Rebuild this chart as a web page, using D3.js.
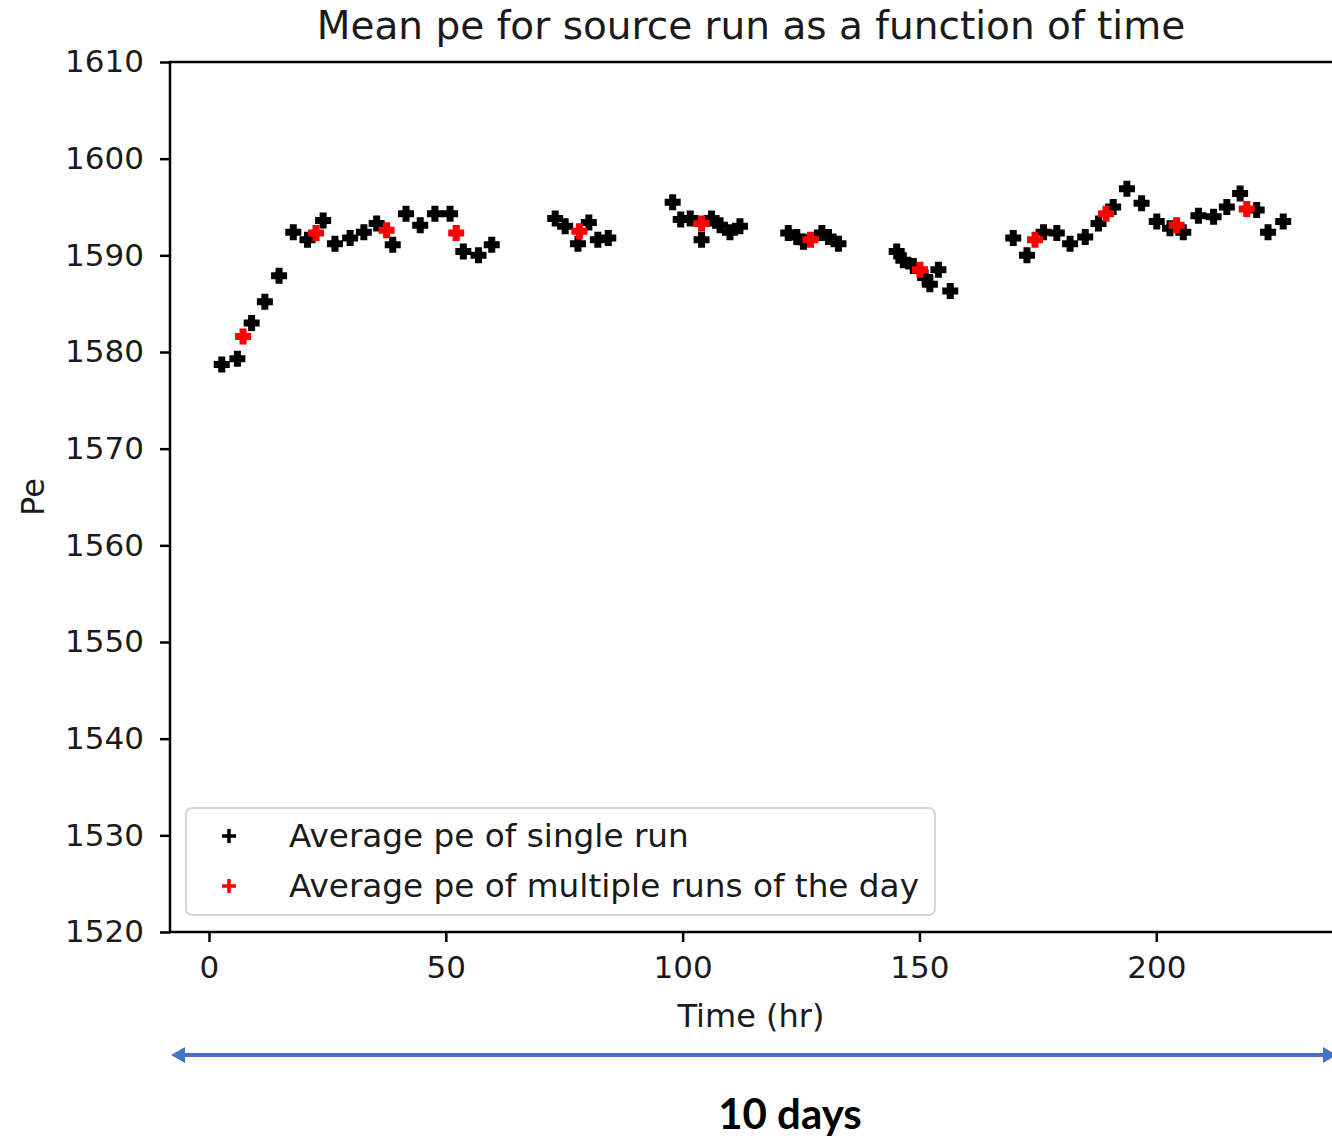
<!DOCTYPE html>
<html>
<head>
<meta charset="utf-8">
<script src="https://cdn.jsdelivr.net/npm/d3@7"></script>
<style>
  html, body { margin: 0; padding: 0; background: #fff; }
  svg { display: block; }
</style>
</head>
<body>
<svg id="chart" width="1332" height="1138"></svg>
<script>
// Per-run averages: time (hr) and mean pe
const runHours = [
  2.7, 6.0, 9.0, 11.8, 14.8, 17.8, 20.8, 24.1, 26.6, 29.8, 32.7, 35.4, 38.8, 41.6, 44.6, 47.7, 50.9, 53.7, 56.9, 59.7,
  73.1, 75.2, 77.9, 80.2, 82.1, 84.3,
  97.9, 99.6, 101.6, 104.0, 106.1, 107.9, 110.0, 112.1,
  122.3, 124.1, 125.5, 129.4, 130.8, 132.9,
  145.2, 146.6, 148.7, 151.2, 152.2, 154.0, 156.5,
  169.8, 172.7, 176.2, 179.0, 181.8, 185.0, 187.8, 190.9, 193.8, 196.9, 200.1, 202.9, 205.7, 208.9, 212.1, 214.9, 217.7, 221.2, 223.6, 226.8
];
const runPe = [
  1578.7, 1579.3, 1583.0, 1585.2, 1587.9, 1592.4, 1591.6, 1593.6, 1591.2, 1591.8, 1592.4, 1593.3, 1591.1, 1594.3, 1593.1, 1594.3, 1594.3, 1590.4, 1590.0, 1591.1,
  1593.8, 1593.0, 1591.2, 1593.4, 1591.6, 1591.8,
  1595.5, 1593.7, 1593.8, 1591.6, 1593.8, 1593.1, 1592.4, 1593.0,
  1592.3, 1591.9, 1591.4, 1592.3, 1591.9, 1591.2,
  1590.4, 1589.5, 1588.9, 1587.7, 1587.0, 1588.5, 1586.3,
  1591.8, 1590.0, 1592.4, 1592.3, 1591.2, 1591.9, 1593.3, 1595.0, 1596.9, 1595.4, 1593.5, 1592.8, 1592.4, 1594.1, 1594.0, 1595.0, 1596.4, 1594.7, 1592.4, 1593.5
];

// Daily averages over the runs of each day
const dayHours = [7.2, 22.6, 37.5, 52.2, 78.2, 104.0, 127.0, 150.1, 174.4, 189.4, 204.3, 219.1];
const dayPe    = [1581.6, 1592.3, 1592.6, 1592.3, 1592.5, 1593.3, 1591.6, 1588.5, 1591.6, 1594.3, 1593.1, 1594.8];

const xTicks = [0, 50, 100, 150, 200];
const yTicks = [1520, 1530, 1540, 1550, 1560, 1570, 1580, 1590, 1600, 1610];

const titleText = "Mean pe for source run as a function of time";
const xLabel = "Time (hr)";
const yLabel = "Pe";
const legendLabels = ["Average pe of single run", "Average pe of multiple runs of the day"];
const spanLabel = "10 days";

(function draw() {
  const svg = d3.select("#chart");
  const font = "'DejaVu Sans', sans-serif";
  const pLeft = 170, pRight = 1332, pTop = 62, pBottom = 932;

  const x = d3.scaleLinear().domain([-8.23, 237.1]).range([pLeft, pRight]);
  const y = d3.scaleLinear().domain([1520, 1610]).range([pBottom, pTop]);

  // Filled plus marker
  function plusPath(s, t) {
    const a = s / 2, b = t / 2;
    return `M${-b},${-a}H${b}V${-b}H${a}V${b}H${b}V${a}H${-b}V${b}H${-a}V${-b}H${-b}Z`;
  }
  const marker = plusPath(16, 7);

  const plot = svg.append("g");

  plot.selectAll("path.run")
    .data(runHours.map((h, i) => [h, runPe[i]]))
    .join("path")
    .attr("class", "run")
    .attr("d", marker)
    .attr("transform", d => `translate(${x(d[0])},${y(d[1])})`)
    .attr("fill", "#000");

  plot.selectAll("path.day")
    .data(dayHours.map((h, i) => [h, dayPe[i]]))
    .join("path")
    .attr("class", "day")
    .attr("d", marker)
    .attr("transform", d => `translate(${x(d[0])},${y(d[1])})`)
    .attr("fill", "#ff0000");

  // Axes
  const fmt = d3.format("d");
  const xAxis = d3.axisBottom(x).tickValues(xTicks).tickFormat(fmt).tickSize(10).tickPadding(14);
  const yAxis = d3.axisLeft(y).tickValues(yTicks).tickFormat(fmt).tickSize(10).tickPadding(16);

  const gx = svg.append("g").attr("transform", `translate(0,${pBottom})`).call(xAxis);
  const gy = svg.append("g").attr("transform", `translate(${pLeft},0)`).call(yAxis);

  [gx, gy].forEach(g => {
    g.select(".domain").remove();
    g.selectAll(".tick line").attr("stroke", "#000").attr("stroke-width", 2.5);
    g.selectAll(".tick text").attr("font-family", font).attr("font-size", 31).attr("fill", "#1a1a1a");
  });

  // Spines: left, bottom, top
  svg.append("path")
    .attr("d", `M${pRight + 2},${pTop}H${pLeft}V${pBottom}H${pRight + 2}`)
    .attr("fill", "none").attr("stroke", "#000").attr("stroke-width", 2.5);

  // Title and axis labels
  svg.append("text")
    .attr("x", (pLeft + pRight) / 2).attr("y", 39)
    .attr("text-anchor", "middle")
    .attr("font-family", font).attr("font-size", 39).attr("fill", "#1a1a1a")
    .text(titleText);

  svg.append("text")
    .attr("x", (pLeft + pRight) / 2).attr("y", 1027)
    .attr("text-anchor", "middle")
    .attr("font-family", font).attr("font-size", 32).attr("fill", "#1a1a1a")
    .text(xLabel);

  svg.append("text")
    .attr("transform", `translate(44,${(pTop + pBottom) / 2}) rotate(-90)`)
    .attr("text-anchor", "middle")
    .attr("font-family", font).attr("font-size", 32).attr("fill", "#1a1a1a")
    .text(yLabel);

  // Legend
  const legend = svg.append("g");
  legend.append("rect")
    .attr("x", 186).attr("y", 808).attr("width", 749).attr("height", 107)
    .attr("rx", 6).attr("ry", 6)
    .attr("fill", "#fff").attr("fill-opacity", 0.8)
    .attr("stroke", "#d6d6d6").attr("stroke-width", 2);

  const legendColors = ["#000", "#ff0000"];
  legendLabels.forEach((lab, i) => {
    const cy = 836 + i * 50;
    legend.append("path")
      .attr("d", "M-7,0H7M0,-7V7")
      .attr("transform", `translate(229,${cy})`)
      .attr("stroke", legendColors[i]).attr("stroke-width", 3.5).attr("fill", "none");
    legend.append("text")
      .attr("x", 289).attr("y", cy + 11)
      .attr("font-family", font).attr("font-size", 32.7).attr("fill", "#1a1a1a")
      .text(lab);
  });

  // Span annotation below the axis
  const blue = "#4472C4";
  const ay = 1055;
  svg.append("line")
    .attr("x1", 180).attr("x2", 1326).attr("y1", ay).attr("y2", ay)
    .attr("stroke", blue).attr("stroke-width", 4);
  svg.append("path")
    .attr("d", `M171,${ay}L185,${ay - 8}L185,${ay + 8}Z`)
    .attr("fill", blue);
  svg.append("path")
    .attr("d", `M1337,${ay}L1323,${ay - 8}L1323,${ay + 8}Z`)
    .attr("fill", blue);

  svg.append("text")
    .attr("x", 790).attr("y", 1129)
    .attr("text-anchor", "middle")
    .attr("font-family", "Lato, 'Open Sans', sans-serif").attr("font-weight", "bold")
    .attr("font-size", 42).attr("fill", "#000")
    .text(spanLabel);
})();
</script>
</body>
</html>
